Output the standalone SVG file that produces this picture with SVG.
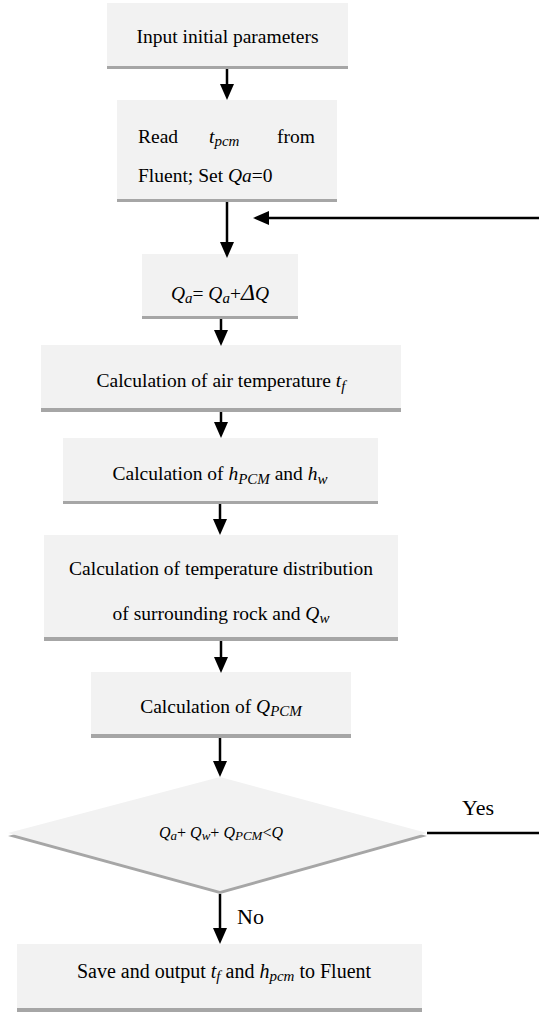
<svg xmlns="http://www.w3.org/2000/svg" width="539" height="1012" viewBox="0 0 539 1012">
<defs>
<style>
.box{fill:#f2f2f2}
.sh{fill:#a6a6a6}
text{font-family:"Liberation Serif","DejaVu Serif","Times New Roman",serif;font-size:19.5px;fill:#000}
.c{text-anchor:middle}
.i{font-style:italic}
.sub{font-size:15px;font-style:italic}
.big{font-size:22px}
.ln{stroke:#000;stroke-width:2.5;fill:none}
.ah{fill:#000}
</style>
</defs>
<rect width="539" height="1012" fill="#fff"/>
<g id="n1">
<rect class="box" x="107" y="3" width="241" height="63"/>
<rect class="sh" x="107" y="66" width="241" height="3"/>
<text class="c" x="227.5" y="43">Input initial parameters</text>
</g>
<g id="n2">
<rect class="box" x="117" y="100" width="220" height="99"/>
<rect class="sh" x="117" y="199" width="220" height="3"/>
<text x="138" y="143">Read</text>
<text x="209" y="143"><tspan class="i">t</tspan><tspan class="sub" dy="3">pcm</tspan></text>
<text x="277" y="143">from</text>
<text x="138" y="182">Fluent; Set <tspan class="i">Qa</tspan>=0</text>
</g>
<g id="n3">
<rect class="box" x="142" y="254" width="156" height="62"/>
<rect class="sh" x="142" y="316" width="156" height="3"/>
<text class="c" x="220" y="300"><tspan class="i">Q</tspan><tspan class="sub" dy="3">a</tspan><tspan dy="-3">= </tspan><tspan class="i">Q</tspan><tspan class="sub" dy="3">a</tspan><tspan dy="-3">+</tspan><tspan class="i" style="font-size:24px">Δ</tspan><tspan class="i">Q</tspan></text>
</g>
<g id="n4">
<rect class="box" x="41" y="345" width="360" height="63"/>
<rect class="sh" x="41" y="408" width="360" height="4"/>
<text class="c" x="221" y="387">Calculation of air temperature <tspan class="i">t</tspan><tspan class="sub" dy="4">f</tspan></text>
</g>
<g id="n5">
<rect class="box" x="63" y="438" width="315" height="63"/>
<rect class="sh" x="63" y="501" width="315" height="3"/>
<text class="c" x="220" y="480">Calculation of <tspan class="i">h</tspan><tspan class="sub" dy="4">PCM</tspan><tspan dy="-4"> and </tspan><tspan class="i">h</tspan><tspan class="sub" dy="4">w</tspan></text>
</g>
<g id="n6">
<rect class="box" x="44" y="535" width="354" height="102"/>
<rect class="sh" x="44" y="637" width="354" height="4"/>
<text class="c" x="221" y="575">Calculation of temperature distribution</text>
<text class="c" x="221" y="620">of surrounding rock and <tspan class="i">Q</tspan><tspan class="sub" dy="3">w</tspan></text>
</g>
<g id="n7">
<rect class="box" x="91" y="672" width="260" height="62"/>
<rect class="sh" x="91" y="734" width="260" height="4"/>
<text class="c" x="221" y="713">Calculation of <tspan class="i">Q</tspan><tspan class="sub" dy="3">PCM</tspan></text>
</g>
<g id="n8">
<polygon class="sh" points="220,780 427,836 220,894 8,836"/>
<polygon class="box" points="220,777 427,833 220,891 8,833"/>
<text class="c" x="221" y="838" style="font-size:16px"><tspan class="i">Q</tspan><tspan class="sub" style="font-size:13px" dy="2">a</tspan><tspan dy="-2">+ </tspan><tspan class="i">Q</tspan><tspan class="sub" style="font-size:13px" dy="2">w</tspan><tspan dy="-2">+ </tspan><tspan class="i">Q</tspan><tspan class="sub" style="font-size:13px" dy="2">PCM</tspan><tspan dy="-2">&lt;</tspan><tspan class="i">Q</tspan></text>
</g>
<g id="n9">
<rect class="box" x="17" y="944" width="405" height="64"/>
<rect class="sh" x="17" y="1008" width="405" height="4"/>
<text class="c" x="224" y="978" style="font-size:20px">Save and output <tspan class="i">t</tspan><tspan class="sub" dy="3">f</tspan><tspan dy="-3"> and </tspan><tspan class="i">h</tspan><tspan class="sub" dy="3">pcm</tspan><tspan dy="-3"> to Fluent</tspan></text>
</g>
<g id="connectors">
<line class="ln" x1="227" y1="69" x2="227" y2="86"/>
<polygon class="ah" points="220,84 234,84 227,100"/>
<line class="ln" x1="227" y1="202" x2="227" y2="244"/>
<polygon class="ah" points="220,242 234,242 227,258"/>
<line class="ln" x1="539" y1="218" x2="267" y2="218"/>
<polygon class="ah" points="269,211 269,225 253,218"/>
<line class="ln" x1="221" y1="319" x2="221" y2="332"/>
<polygon class="ah" points="214,330 228,330 221,346"/>
<line class="ln" x1="221" y1="412" x2="221" y2="424"/>
<polygon class="ah" points="214,422 228,422 221,438"/>
<line class="ln" x1="220" y1="504" x2="220" y2="521"/>
<polygon class="ah" points="213,519 227,519 220,535"/>
<line class="ln" x1="221" y1="641" x2="221" y2="659"/>
<polygon class="ah" points="214,657 228,657 221,673"/>
<line class="ln" x1="220" y1="738" x2="220" y2="763"/>
<polygon class="ah" points="213,761 227,761 220,777"/>
<line class="ln" x1="427" y1="833" x2="539" y2="833"/>
<text class="big" x="462" y="815">Yes</text>
<line class="ln" x1="220" y1="894" x2="220" y2="930"/>
<polygon class="ah" points="213,928 227,928 220,944"/>
<text class="big" x="237" y="924">No</text>
</g>
</svg>
